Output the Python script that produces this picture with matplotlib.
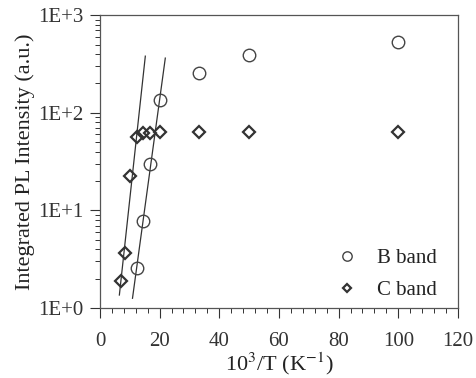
import numpy as np
import matplotlib
matplotlib.use("Agg")
import matplotlib.pyplot as plt
from matplotlib.ticker import FixedLocator, MultipleLocator, LogLocator, FuncFormatter

# 10^3/T values (T = 140 ... 10 K)
x_b = [12.5, 14.3, 16.7, 20.0, 33.3, 50.0, 100.0]
y_b = [2.6, 7.8, 30, 135, 257, 395, 525]

x_c = [7.1, 8.3, 10.0, 12.5, 14.3, 16.7, 20.0, 33.3, 50.0, 100.0]
y_c = [1.9, 3.7, 22.6, 57, 62, 62, 63, 63, 63, 63]

# fitted lines (endpoints)
fit_c_x = [6.5, 15.2]
fit_c_y = [1.36, 380]
fit_b_x = [10.9, 21.9]
fit_b_y = [1.26, 363]

plt.rcParams['font.family'] = ['Liberation Serif', 'DejaVu Serif']
plt.rcParams['mathtext.fontset'] = 'stix'

fig = plt.figure(figsize=(4.77, 3.78), dpi=100)
ax = fig.add_axes([0.2096, 0.185, 0.7504, 0.775])

ax.plot(fit_c_x, fit_c_y, color='#333333', lw=0.9)
ax.plot(fit_b_x, fit_b_y, color='#333333', lw=0.9)
ax.plot(x_b, y_b, linestyle='none', marker='o', ms=9, mfc='none',
        mec='#444444', mew=1.0, label='B band')
ax.plot(x_c, y_c, linestyle='none', marker='D', ms=6, mfc='none',
        mec='#333333', mew=1.6, label='C band')

ax.set_yscale('log')
ax.set_xlim(0, 120)
ax.set_ylim(1, 1000)
ax.xaxis.set_major_locator(MultipleLocator(20))
ax.xaxis.set_minor_locator(MultipleLocator(4))
ax.yaxis.set_major_locator(FixedLocator([1, 10, 100, 1000]))
ax.yaxis.set_minor_locator(LogLocator(base=10, subs=np.arange(2, 10)))
ax.yaxis.set_major_formatter(FuncFormatter(lambda v, p: '1E+%d' % round(np.log10(v))))
ax.yaxis.set_minor_formatter(FuncFormatter(lambda v, p: ''))

ax.tick_params(which='major', direction='out', length=7, width=0.8,
               labelsize=15, colors='#333333', pad=5)
ax.tick_params(axis='x', which='major', pad=10)
ax.tick_params(which='minor', direction='out', length=3.5, width=0.7, colors='#333333')
for s in ax.spines.values():
    s.set_color('#555555')
    s.set_linewidth(0.9)

ax.set_xlabel(r'10$^3$/T (K$^{-1}$)', fontsize=16, color='#222222', labelpad=0)
ax.set_ylabel('Integrated PL Intensity (a.u.)', fontsize=16, color='#222222', labelpad=2)

ax.legend(loc='lower right', bbox_to_anchor=(0.975, -0.015), frameon=False,
          fontsize=15, handletextpad=0.4, labelspacing=0.6, borderaxespad=0.2,
          markerscale=0.75, labelcolor='#222222')

fig.savefig('out.png', dpi=100)
